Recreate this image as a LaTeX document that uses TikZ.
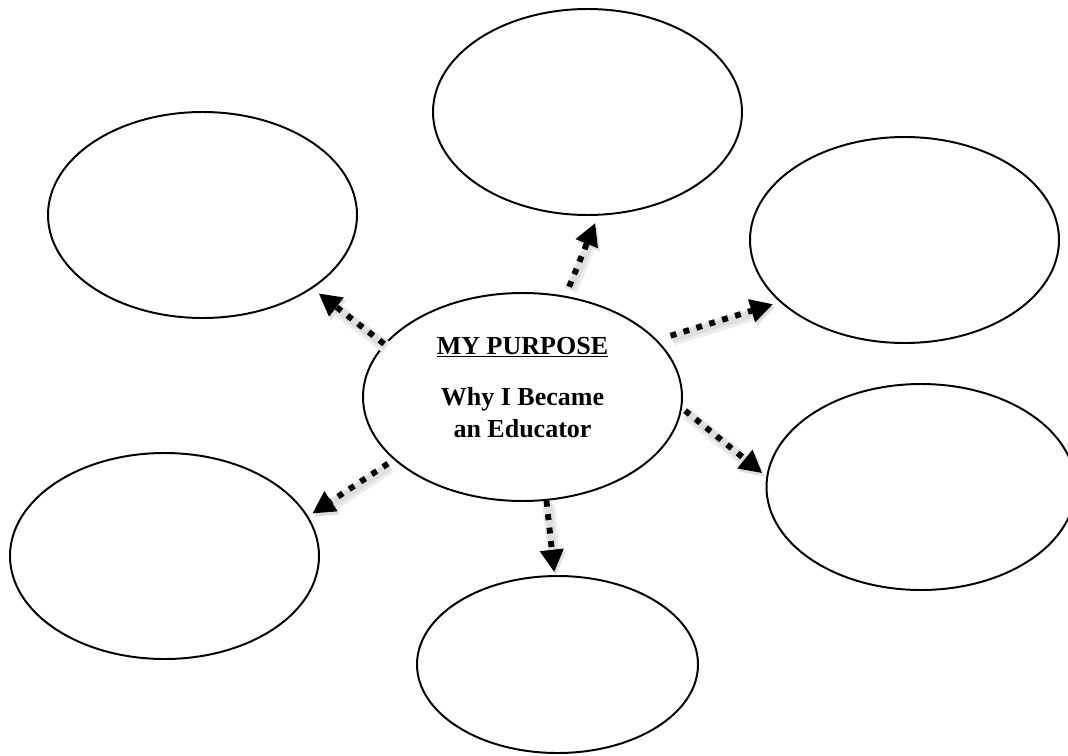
\documentclass[tikz,border=0pt]{standalone}
\usepackage{fontspec}
\setmainfont{Liberation Serif}
\usepackage{tikz}
\usetikzlibrary{shapes.geometric}
\usetikzlibrary{arrows.meta}

\tikzset{
    bubble/.style={draw, ellipse, line width=1.4pt, inner sep=0pt,
        minimum width=7.725cm, minimum height=5.15cm},
    flow/.style={-{Triangle[length=16pt,width=16pt]}, line width=4.2pt,
        dash pattern=on 4.2pt off 5.4pt,
        preaction={draw=black!7, line width=9pt, solid,
            transform canvas={shift={(1.5pt,-2.5pt)}}},
        preaction={draw=black!13, line width=5.5pt, solid,
            transform canvas={shift={(1.2pt,-2pt)}}}},
    heading/.style={font=\bfseries\fontsize{18.5}{22}\selectfont, anchor=base, inner sep=0pt}
}

\begin{document}
\begin{tikzpicture}
        \useasboundingbox (0, 0) rectangle (26.7, -18.875);

        % The middle bubble
        \node[bubble, minimum width=7.975cm, minimum height=5.2cm] (mid) at (13.0625, -9.925) {};

        % The outer bubbles
        \node[bubble] (top) at (14.6875, -2.8) {};
        \node[bubble] (upleft) at (5.0625, -5.375) {};
        \node[bubble] (upright) at (22.6125, -6.0) {};
        \node[bubble] (right) at (23.025, -12.175) {};
        \node[bubble] (downleft) at (4.1125, -13.9) {};
        \node[bubble, minimum width=7.025cm, minimum height=4.425cm] (bottom) at (13.9375, -16.6125) {};

        % The text in the middle
        \node[heading] (purpose) at ([yshift=1.075cm]mid.center) {\underline{MY PURPOSE}};
        \node[heading] (why) at ([yshift=-0.2cm]mid.center) {Why I Became};
        \node[heading] (educator) at ([yshift=-1.0cm]mid.center) {an Educator};

        % The arrows
        \draw[flow] (mid.159.4) -- ([shift={(-34:5.7pt)}]upleft.-34);
        \draw[flow, shorten <=7pt] (mid.67.5) -- ([shift={(-86:5pt)}]top.-86);
        \draw[flow, shorten <=10pt] (mid.23.9) -- ([shift={(206.3:4.6pt)}]upright.206.3);
        \draw[flow, shorten <=2.8pt] (mid.-4.6) -- ([shift={(175.7:3.2pt)}]right.175.7);
        \draw[flow] (mid.-77.1) -- ([shift={(92.8:2pt)}]bottom.92.8);
        \draw[flow, shorten <=5pt] (mid.206.8) -- ([shift={(16.8:3.6pt)}]downleft.16.8);
    \end{tikzpicture}
\end{document}
